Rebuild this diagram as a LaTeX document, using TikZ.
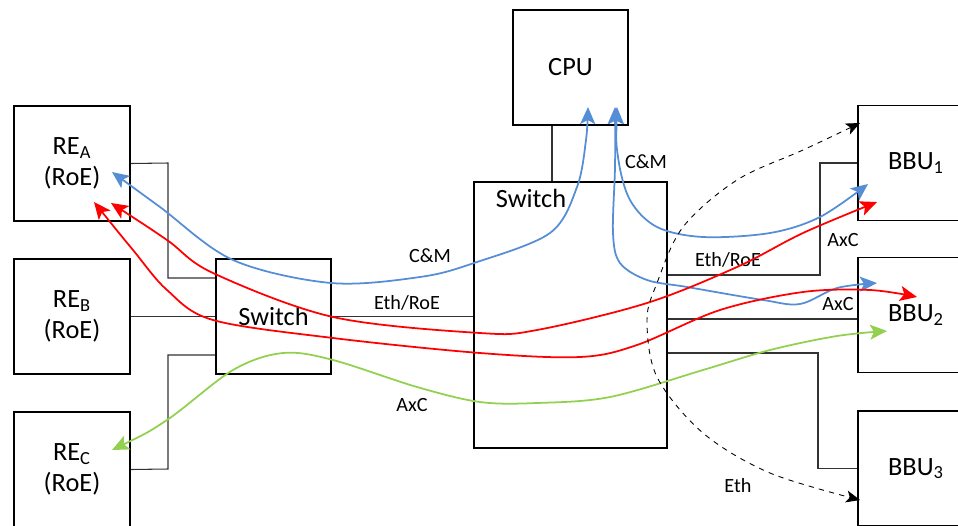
\documentclass[tikz,border=0pt]{standalone}
\usepackage{fontspec}
\setmainfont{Carlito}
\usetikzlibrary{arrows.meta}
\definecolor{cmblue}{RGB}{85,142,213}
\definecolor{axcgreen}{RGB}{146,208,80}
\tikzset{
  box/.style={draw, line width=1.1pt, minimum width=2.32cm, minimum height=2.3cm, align=center, font=\fontsize{15}{18}\selectfont},
  link/.style={draw=black!80, line width=0.6pt},
  lbl/.style={font=\fontsize{11.5}{13}\selectfont, inner sep=1pt},
  flow/.style={line width=1pt, {Stealth[length=3.4mm,width=3mm,inset=0.8mm]}-{Stealth[length=3.4mm,width=3mm,inset=0.8mm]}, smooth, tension=0.55},
  ethflow/.style={line width=0.5pt, dashed, {Stealth[length=2.8mm,width=2.4mm,inset=0.7mm]}-{Stealth[length=2.8mm,width=2.4mm,inset=0.7mm]}, smooth, tension=0.55},
}

\begin{document}
\begin{tikzpicture}[x=0.02cm, y=-0.02cm]
\useasboundingbox (0,0) rectangle (958,525);
% boxes
\node[box] (reA) at (72,163.5) {RE\textsubscript{A}\\(RoE)};
\node[box] (reB) at (72,316.5) {RE\textsubscript{B}\\(RoE)};
\node[box] (reC) at (72,469.5) {RE\textsubscript{C}\\(RoE)};
\node[box, minimum width=2.3cm] (sw1) at (273.5,316.5) {Switch};
\node[box, minimum width=3.86cm, minimum height=5.32cm] (sw2) at (570.5,315) {};
\node[font=\fontsize{15}{18}\selectfont] (sw2txt) at (531,198) {Switch};
\node[box, minimum width=2.3cm] (cpu) at (570.5,67.5) {CPU};
\node[box] (bbu1) at (916,163) {BBU\textsubscript{1}};
\node[box] (bbu2) at (916,315) {BBU\textsubscript{2}};
\node[box] (bbu3) at (916,468.5) {BBU\textsubscript{3}};

% wiring
\draw[link] (reA.east) -- (168,163) |- (sw1.west |- 0,278);
\draw[link] (reB.east) -- (sw1.west);
\draw[link] (reC.east) -- (168,469) |- (sw1.west |- 0,355);
\draw[link] (sw1.east) -- (sw2.west |- sw1.east);
\draw[link] (cpu.south -| 552,0) -- (sw2.north -| 552,0);
\draw[link] (sw2.east |- 0,275) -- (820,275) |- (bbu1.west);
\draw[link] (sw2.east |- 0,319) -- (bbu2.west |- 0,319);
\draw[link] (sw2.east |- 0,353) -- (818,353) |- (bbu3.west);

% labels
\node[lbl] (cmL) at (430,256) {C\&M};
\node[lbl] (ethL) at (407,303) {Eth/RoE};
\node[lbl] (axcL) at (412,405) {AxC};
\node[lbl] (cmR) at (646,162) {C\&M};
\node[lbl] (ethR) at (728,260) {Eth/RoE};
\node[lbl] (axc1) at (843,240) {AxC};
\node[lbl] (axc2) at (838,304) {AxC};
\node[lbl] (ethB) at (738,486) {Eth};

% flow ends
\coordinate (cmA) at (112,172);
\coordinate (cpu1) at (588,107);
\coordinate (cpu2) at (617,107);
\coordinate (cpu3) at (615,107);
\coordinate (cmB1) at (868,184);
\coordinate (cmB2) at (877,283);
\coordinate (roeA1) at (111,203);
\coordinate (roeA2) at (94,202);
\coordinate (roeB1) at (877,202);
\coordinate (roeB2) at (917,297);
\coordinate (axcC) at (112,450);
\coordinate (axcB2) at (887,331);
\coordinate (ethB1) at (860,123);
\coordinate (ethB3) at (860,500);

% flows
\draw[flow, cmblue] plot coordinates {(cmA) (160,207) (233,260) (331,283) (420,277) (474,263) (550,233) (577,187) (586,140) (cpu1)};
\draw[flow, cmblue] plot coordinates {(cpu2) (618,157) (630,200) (657,227) (703,237) (770,233) (820,217) (cmB1)};
\draw[flow, cmblue] plot coordinates {(cpu3) (615,167) (613,233) (620,263) (647,280) (687,287) (763,300) (800,304) (837,288) (cmB2)};
\draw[flow, red] plot coordinates {(roeA1) (167,240) (213,273) (333,317) (480,333) (537,330) (647,303) (737,267) (803,233) (roeB1)};
\draw[flow, red] plot coordinates {(roeA2) (133,250) (167,290) (213,320) (333,338) (480,353) (580,357) (637,345) (720,310) (803,292) (870,290) (roeB2)};
\draw[flow, axcgreen] plot coordinates {(axcC) (167,420) (233,370) (283,353) (333,360) (417,387) (480,402) (537,403) (610,397) (703,370) (770,350) (837,336) (axcB2)};
\draw[ethflow] plot coordinates {(ethB1) (803,150) (737,180) (683,227) (657,283) (647,320) (657,377) (703,433) (770,473) (ethB3)};
\end{tikzpicture}
\end{document}
